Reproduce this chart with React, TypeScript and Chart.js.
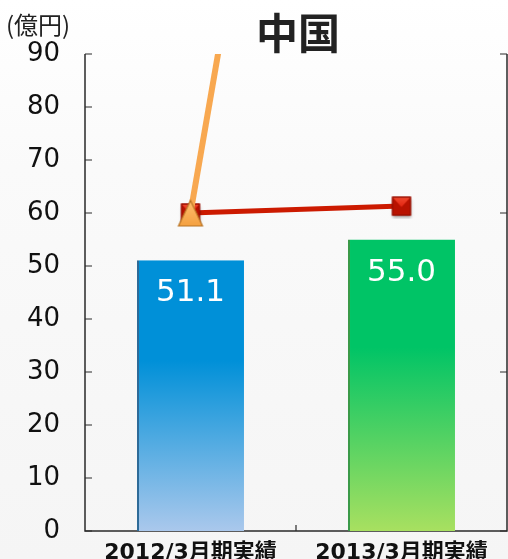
import React, { useEffect, useRef } from "react";
import { Chart, registerables } from "chart.js";

Chart.register(...registerables);

const categories = ["2012/3月期実績", "2013/3月期実績"];
const barValues = [51.1, 55.0];
const redLineValues = [60, 61.3];
const orangeLineValues = [60, 290];
const yTicks = [0, 10, 20, 30, 40, 50, 60, 70, 80, 90];
const rightTicks = [0, 30, 60, 90];
const titleText = "中国";
const unitText = "(億円)";

const NUM_FONT = '"DejaVu Sans", "Noto Sans CJK JP", sans-serif';
const CJK_FONT = '"Noto Sans CJK JP", "DejaVu Sans", sans-serif';

function makeSquare(): HTMLCanvasElement {
  const c = document.createElement("canvas");
  c.width = 26;
  c.height = 26;
  const g = c.getContext("2d")!;
  const s = 19;
  const x0 = (26 - s) / 2;
  const y0 = (26 - s) / 2;
  g.save();
  g.shadowColor = "rgba(0,0,0,0.35)";
  g.shadowBlur = 3;
  g.shadowOffsetY = 2;
  g.fillStyle = "#b81200";
  g.fillRect(x0, y0, s, s);
  g.restore();
  g.beginPath();
  g.moveTo(x0 + 1, y0 + 1);
  g.lineTo(x0 + s - 1, y0 + 1);
  g.lineTo(x0 + s / 2, y0 + s * 0.55);
  g.closePath();
  const gr = g.createLinearGradient(0, y0, 0, y0 + s * 0.55);
  gr.addColorStop(0, "#f24a30");
  gr.addColorStop(1, "#e02410");
  g.fillStyle = gr;
  g.fill();
  g.strokeStyle = "#8c0e00";
  g.lineWidth = 1;
  g.strokeRect(x0 + 0.5, y0 + 0.5, s - 1, s - 1);
  return c;
}

function makeTriangle(): HTMLCanvasElement {
  const c = document.createElement("canvas");
  c.width = 28;
  c.height = 28;
  const g = c.getContext("2d")!;
  g.beginPath();
  g.moveTo(14, 1.5);
  g.lineTo(26, 27);
  g.lineTo(2, 27);
  g.closePath();
  const gr = g.createLinearGradient(0, 1, 0, 27);
  gr.addColorStop(0, "#ffc070");
  gr.addColorStop(1, "#f4a040");
  g.fillStyle = gr;
  g.fill();
  g.strokeStyle = "#b87424";
  g.lineWidth = 1.2;
  g.stroke();
  return c;
}

const barTop = ["#0090d8", "#00c466"];
const barBottom = ["#aac8ec", "#a8e060"];
const barEdge = ["#2d6a98", "#3a9a48"];

export default function App() {
  const ref = useRef<HTMLCanvasElement | null>(null);

  useEffect(() => {
    if (!ref.current) return;
    const squareImg = makeSquare();
    const triImg = makeTriangle();

    const bgPlugin = {
      id: "bg",
      beforeDraw(chart: any) {
        const { ctx, width, height } = chart;
        const gr = ctx.createLinearGradient(0, 0, 0, height);
        gr.addColorStop(0, "#ffffff");
        gr.addColorStop(0.3, "#fafafa");
        gr.addColorStop(1, "#f5f5f5");
        ctx.save();
        ctx.fillStyle = gr;
        ctx.fillRect(0, 0, width, height);
        ctx.restore();
      },
    };

    const framePlugin = {
      id: "frame",
      beforeDatasetsDraw(chart: any) {
        const { ctx, chartArea } = chart;
        const y = chart.scales.y;
        const x = chart.scales.x;
        const { left, right, top, bottom } = chartArea;
        ctx.save();
        ctx.strokeStyle = "#2a2a2a";
        ctx.lineWidth = 1.5;
        ctx.beginPath();
        ctx.moveTo(left, top);
        ctx.lineTo(left, bottom);
        ctx.lineTo(right, bottom);
        ctx.lineTo(right, top);
        ctx.stroke();
        ctx.lineWidth = 1.2;
        ctx.beginPath();
        yTicks.forEach((v) => {
          const py = y.getPixelForValue(v);
          ctx.moveTo(left, py);
          ctx.lineTo(left + 7, py);
        });
        rightTicks.forEach((v) => {
          const py = y.getPixelForValue(v);
          ctx.moveTo(right, py);
          ctx.lineTo(right - 7, py);
        });
        for (let i = 0; i < categories.length - 1; i++) {
          const px = (x.getPixelForValue(i) + x.getPixelForValue(i + 1)) / 2;
          ctx.moveTo(px, bottom);
          ctx.lineTo(px, bottom - 6);
        }
        ctx.stroke();
        ctx.restore();
      },
    };

    const textPlugin = {
      id: "texts",
      afterDatasetsDraw(chart: any) {
        const { ctx, chartArea } = chart;
        const meta = chart.getDatasetMeta(0);
        ctx.save();
        ctx.fillStyle = "#ffffff";
        ctx.font = `31px ${NUM_FONT}`;
        ctx.textAlign = "center";
        ctx.textBaseline = "middle";
        meta.data.forEach((bar: any, i: number) => {
          ctx.fillText(barValues[i].toFixed(1), bar.x, bar.y + 33);
        });
        ctx.fillStyle = "#222222";
        ctx.font = `bold 42px ${CJK_FONT}`;
        ctx.fillText(titleText, (chartArea.left + chartArea.right) / 2 + 2, 33);
        ctx.font = `24px ${CJK_FONT}`;
        ctx.textAlign = "left";
        ctx.fillText(unitText, 6, 25);
        ctx.restore();
      },
    };

    const chart = new Chart(ref.current, {
      type: "bar",
      data: {
        labels: categories,
        datasets: [
          {
            type: "bar",
            data: barValues,
            order: 3,
            categoryPercentage: 1,
            barPercentage: 0.507,
            borderWidth: { left: 2, top: 0, right: 0, bottom: 0 } as any,
            borderColor: barEdge,
            borderSkipped: false,
            backgroundColor: (context: any) => {
              const ch = context.chart;
              const i = context.dataIndex;
              if (!ch.chartArea || !ch.scales.y) return barTop[i % 2];
              const yTop = ch.scales.y.getPixelForValue(barValues[i]);
              const yBot = ch.scales.y.getPixelForValue(0);
              const gr = ch.ctx.createLinearGradient(0, yTop, 0, yBot);
              gr.addColorStop(0, barTop[i % 2]);
              gr.addColorStop(0.37, barTop[i % 2]);
              gr.addColorStop(1, barBottom[i % 2]);
              return gr;
            },
          } as any,
          {
            type: "line",
            data: redLineValues,
            order: 2,
            borderColor: "#cc1a00",
            borderWidth: 5,
            pointStyle: squareImg as any,
            pointRadius: 10,
            pointHoverRadius: 10,
            tension: 0,
            clip: false,
          } as any,
          {
            type: "line",
            data: orangeLineValues,
            order: 1,
            borderColor: "#f8a850",
            borderWidth: 6,
            pointStyle: triImg as any,
            pointRadius: 10,
            pointHoverRadius: 10,
            tension: 0,
            clip: 0,
          } as any,
        ],
      },
      options: {
        animation: false,
        responsive: false,
        events: [],
        layout: { autoPadding: false, padding: { top: 54, right: 1, left: 0, bottom: 0 } },
        plugins: {
          legend: { display: false },
          tooltip: { enabled: false },
          title: { display: false },
        },
        scales: {
          x: {
            offset: true,
            grid: { display: false, drawTicks: false },
            border: { display: false },
            ticks: {
              color: "#111111",
              font: { family: NUM_FONT, size: 22, weight: "bold" },
              padding: 9,
              maxRotation: 0,
              autoSkip: false,
            },
            afterFit: (scale: any) => {
              scale.height = 28;
              scale.paddingLeft = 0;
              scale.paddingRight = 0;
            },
          },
          y: {
            min: 0,
            max: 90,
            grid: { display: false, drawTicks: false },
            border: { display: false },
            ticks: {
              stepSize: 10,
              color: "#111111",
              font: { family: NUM_FONT, size: 26 },
              padding: 25,
            },
            afterFit: (scale: any) => {
              scale.width = 85;
              scale.paddingTop = 0;
              scale.paddingBottom = 0;
            },
          },
        },
      } as any,
      plugins: [bgPlugin, framePlugin, textPlugin],
    });

    return () => chart.destroy();
  }, []);

  return (
    <div style={{ position: "fixed", left: 0, top: 0, width: 508, height: 559, overflow: "hidden" }}>
      <canvas ref={ref} width={508} height={559} style={{ width: 508, height: 559, display: "block" }} />
    </div>
  );
}
